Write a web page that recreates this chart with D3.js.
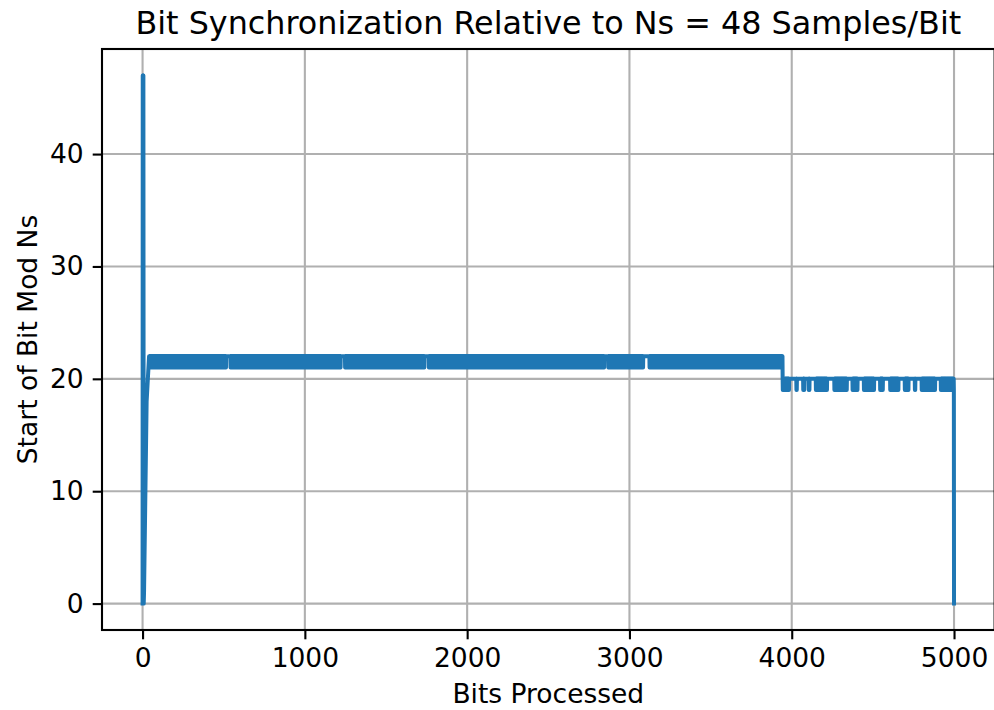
<!DOCTYPE html>
<html><head><meta charset="utf-8">
<script src="https://cdnjs.cloudflare.com/ajax/libs/d3/7.8.5/d3.min.js"></script>
<style>body{margin:0;background:#fff}text{font-family:"DejaVu Sans",sans-serif}</style>
</head><body><svg id="c" width="994" height="710"></svg>
<script>
// ---- data ----
const xTicks = [0, 1000, 2000, 3000, 4000, 5000];
const yTicks = [0, 10, 20, 30, 40];
// acquisition transient at the start
const headBits = [0, 1, 3, 5, 7, 9, 25, 40];
const headVals = [0, 47, 0, 47, 0, 1, 18, 22];
// locked bands: within [from,to] the value toggles between lo and hi every bit
const bandFrom = [41, 3944];
const bandTo   = [3943, 4999];
const bandLo   = [21, 19];
const bandHi   = [22, 20];
// stretches where the value holds at the band's upper level (white slits in the band)
const holdFrom = [516, 1222, 1737, 2845, 3086,
                  3984, 4033, 4078, 4110, 4218, 4340, 4406, 4509, 4563, 4659, 4720, 4763, 4884];
const holdTo   = [540, 1246, 1763, 2869, 3122,
                  4027, 4070, 4104, 4147, 4261, 4373, 4443, 4543, 4606, 4695, 4757, 4800, 4918];
// final sample
const tailBits = [5000];
const tailVals = [0];

// ---- build points ----
const pts = [];
headBits.forEach((b, i) => pts.push([b, headVals[i]]));
bandFrom.forEach((f, i) => {
  for (let b = f; b <= bandTo[i]; b++) {
    const held = holdFrom.some((h, j) => b >= h && b <= holdTo[j]);
    pts.push([b, held ? bandHi[i] : ((b - f) % 2 === 0 ? bandHi[i] : bandLo[i])]);
  }
});
tailBits.forEach((b, i) => pts.push([b, tailVals[i]]));

// ---- layout ----
const L = 102, R = 994.6, T = 49, B = 630;
const svg = d3.select("#c");
const x = d3.scaleLinear().domain([-250, 5250]).range([L, R]);
const y = d3.scaleLinear().domain([-2.35, 49.35]).range([B, T]);

// grid
svg.append("g").selectAll("line").data(xTicks).join("line")
  .attr("x1", d => x(d)).attr("x2", d => x(d)).attr("y1", T).attr("y2", B)
  .attr("stroke", "#b0b0b0").attr("stroke-width", 2.1);
svg.append("g").selectAll("line").data(yTicks).join("line")
  .attr("y1", d => y(d)).attr("y2", d => y(d)).attr("x1", L).attr("x2", R)
  .attr("stroke", "#b0b0b0").attr("stroke-width", 2.1);

// line
svg.append("path").datum(pts)
  .attr("d", d3.line().x(d => x(d[0])).y(d => y(d[1])))
  .attr("fill", "none").attr("stroke", "#1f77b4").attr("stroke-width", 4)
  .attr("stroke-linejoin", "round").attr("stroke-linecap", "square");

// axes
const fs = 26.5;
const xa = svg.append("g").attr("transform", `translate(0,${B})`)
  .call(d3.axisBottom(x).tickValues(xTicks).tickSize(9.3).tickPadding(9).tickFormat(d3.format("d")));
const ya = svg.append("g").attr("transform", `translate(${L},0)`)
  .call(d3.axisLeft(y).tickValues(yTicks).tickSize(9.3).tickPadding(9).tickFormat(d3.format("d")));
[xa, ya].forEach(a => {
  a.select(".domain").remove();
  a.selectAll(".tick line").attr("stroke", "#000").attr("stroke-width", 2.1);
  a.selectAll(".tick text").attr("font-size", fs).attr("fill", "#000").attr("font-family", "DejaVu Sans");
});

// spines
svg.append("rect").attr("x", L).attr("y", T).attr("width", R - L).attr("height", B - T)
  .attr("fill", "none").attr("stroke", "#000").attr("stroke-width", 2.1);

// titles
svg.append("text").attr("x", (L + R) / 2).attr("y", 34).attr("text-anchor", "middle")
  .attr("font-size", 31.8).text("Bit Synchronization Relative to Ns = 48 Samples/Bit");
svg.append("text").attr("x", (L + R) / 2).attr("y", 703).attr("text-anchor", "middle")
  .attr("font-size", fs).text("Bits Processed");
svg.append("text").attr("transform", `translate(37,${(T + B) / 2}) rotate(-90)`).attr("text-anchor", "middle")
  .attr("font-size", fs).text("Start of Bit Mod Ns");
</script></body></html>
